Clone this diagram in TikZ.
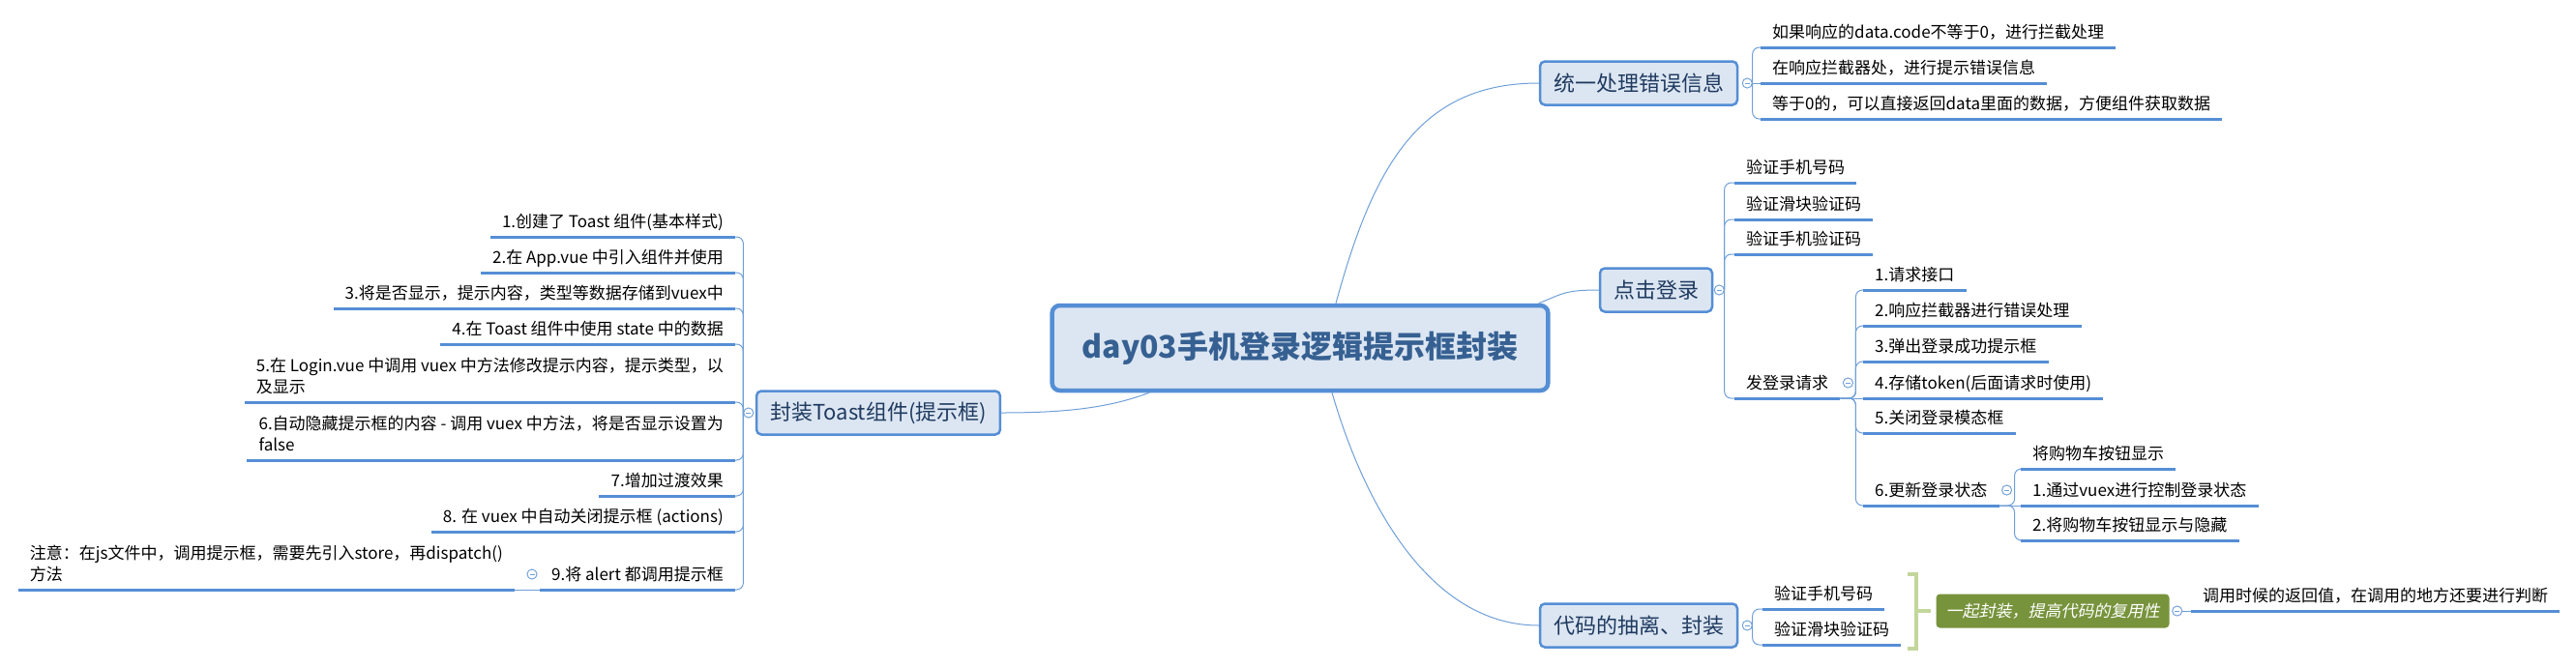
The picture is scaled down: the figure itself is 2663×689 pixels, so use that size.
\documentclass[tikz,border=0pt]{standalone}
\usepackage{fontspec}
\setmainfont{Noto Sans CJK SC}
\newfontfamily\slantfont[FakeSlant=0.2]{Noto Sans CJK SC}
\definecolor{boxblue}{HTML}{558ED5}
\definecolor{boxfill}{HTML}{DCE6F2}
\definecolor{connblue}{HTML}{6F9FD8}
\definecolor{rootblue}{HTML}{366092}
\definecolor{topicblue}{HTML}{1F3A60}
\definecolor{sumgreen}{HTML}{77933C}
\definecolor{brkgreen}{HTML}{C3D69B}
\tikzset{
  root/.style={draw=boxblue, line width=4.5pt, fill=boxfill, rounded corners=8pt,
    minimum height=88pt, inner xsep=31pt, text=rootblue,
    font=\fontsize{32}{38}\selectfont\bfseries},
  topic/.style={draw=boxblue, line width=2.5pt, fill=boxfill, rounded corners=5pt,
    minimum height=45pt, inner xsep=14pt, text=topicblue,
    font=\fontsize{22}{26}\selectfont},
  leaf/.style={inner xsep=12pt, inner ysep=6pt, text depth=3pt,
    font=\fontsize{17}{22}\selectfont},
  uline/.style={draw=boxblue, line width=3pt},
  conn/.style={draw=connblue, line width=1pt, rounded corners=7pt},
  fold/.style={circle, draw=connblue, fill=white, line width=0.8pt,
    minimum size=10pt, inner sep=0pt,
    path picture={\draw[connblue, line width=0.8pt]
      ([xshift=-2.5pt]path picture bounding box.center) --
      ([xshift=2.5pt]path picture bounding box.center);}},
  sumbox/.style={fill=sumgreen, text=white, rounded corners=4pt,
    minimum height=35pt, inner xsep=10pt, font=\fontsize{17}{22}\selectfont},
  brk/.style={draw=brkgreen, line width=4pt}
}
\begin{document}
\begin{tikzpicture}[x=1pt, y=-1pt]
  \fill[white] (0,0) rectangle (2663,689);
  \useasboundingbox (0,0) rectangle (2663,689);

  % root and main topics
  \node[root] (ctr) at (1344,360) {day03手机登录逻辑提示框封装};
  \node[topic] (t1) at (1694,86) {统一处理错误信息};
  \node[topic] (t2) at (1712,300) {点击登录};
  \node[topic] (t3) at (1694,647) {代码的抽离、封装};
  \node[topic] (t4) at (908,427) {封装Toast组件(提示框)};

  \draw[conn] ([xshift=37pt]ctr.north) .. controls +(39,-143) and +(-123,0) .. (t1.west);
  \draw[conn] ([xshift=-12pt]ctr.north east) .. controls +(25,-10) and +(-35,0) .. (t2.west);
  \draw[conn] ([xshift=33pt]ctr.south) .. controls +(33,114) and +(-113,0) .. (t3.west);
  \draw[conn] (t4.east) .. controls +(70,0) and +(-40,15) .. ([xshift=-156pt]ctr.south);

  % 统一处理错误信息
  \node[leaf, anchor=south west] (c11) at (1820,49) {如果响应的data.code不等于0，进行拦截处理};
  \node[leaf, anchor=south west] (c12) at (1820,86) {在响应拦截器处，进行提示错误信息};
  \node[leaf, anchor=south west] (c13) at (1820,123) {等于0的，可以直接返回data里面的数据，方便组件获取数据};

  % 点击登录
  \node[leaf, anchor=south west] (c21) at (1793,189) {验证手机号码};
  \node[leaf, anchor=south west] (c22) at (1793,227) {验证滑块验证码};
  \node[leaf, anchor=south west] (c23) at (1793,263) {验证手机验证码};
  \node[leaf, anchor=south west] (c24) at (1793,412) {发登录请求};
  \node[leaf, anchor=south west] (d1) at (1926,300) {1.请求接口};
  \node[leaf, anchor=south west] (d2) at (1926,337) {2.响应拦截器进行错误处理};
  \node[leaf, anchor=south west] (d3) at (1926,374) {3.弹出登录成功提示框};
  \node[leaf, anchor=south west] (d4) at (1926,412) {4.存储token(后面请求时使用)};
  \node[leaf, anchor=south west] (d5) at (1926,448) {5.关闭登录模态框};
  \node[leaf, anchor=south west] (d6) at (1926,523) {6.更新登录状态};
  \node[leaf, anchor=south west] (e1) at (2089,485) {将购物车按钮显示};
  \node[leaf, anchor=south west] (e2) at (2089,523) {1.通过vuex进行控制登录状态};
  \node[leaf, anchor=south west] (e3) at (2089,559) {2.将购物车按钮显示与隐藏};

  % 代码的抽离、封装
  \node[leaf, anchor=south west] (c31) at (1822,630) {验证手机号码};
  \node[leaf, anchor=south west] (c32) at (1822,667) {验证滑块验证码};
  \node[sumbox] (sm) at (2122,632) {\slantfont 一起封装，提高代码的复用性};
  \node[leaf, anchor=south west] (c51) at (2265,632) {调用时候的返回值，在调用的地方还要进行判断};
  \draw[brk] (1972,594) -- (1981,594) -- (1981,671) -- (1972,671);
  \draw[brk] (1981,632) -- ([xshift=-5pt]sm.west);

  % 封装Toast组件(提示框)
  \node[leaf, anchor=south east] (c41) at (760,245) {1.创建了 Toast 组件(基本样式)};
  \node[leaf, anchor=south east] (c42) at (760,282) {2.在 App.vue 中引入组件并使用};
  \node[leaf, anchor=south east] (c43) at (760,319) {3.将是否显示，提示内容，类型等数据存储到vuex中};
  \node[leaf, anchor=south east] (c44) at (760,356) {4.在 Toast 组件中使用 state 中的数据};
  \node[leaf, anchor=south east, align=left] (c45) at (760,416)
    {5.在 Login.vue 中调用 vuex 中方法修改提示内容，提示类型，以\\及显示};
  \node[leaf, anchor=south east, align=left] (c46) at (760,476)
    {6.自动隐藏提示框的内容 - 调用 vuex 中方法，将是否显示设置为\\false};
  \node[leaf, anchor=south east] (c47) at (760,513) {7.增加过渡效果};
  \node[leaf, anchor=south east] (c48) at (760,550) {8. 在 vuex 中自动关闭提示框 (actions)};
  \node[leaf, anchor=south east] (c49) at (760,610) {9.将 alert 都调用提示框};
  \node[leaf, anchor=south east, align=left] (c491) at (532,610)
    {注意：在js文件中，调用提示框，需要先引入store，再dispatch()\\方法};

  % fold buttons
  \node[fold] (f1) at ([xshift=9pt]t1.east) {};
  \node[fold] (f2) at ([xshift=6pt]t2.east) {};
  \node[fold] (f3) at ([xshift=9pt]t3.east) {};
  \node[fold] (f4) at ([xshift=-7pt]t4.west) {};
  \node[fold] (f24) at ([shift={(8,-16)}]c24.south east) {};
  \node[fold] (f6) at ([shift={(8,-16)}]d6.south east) {};
  \node[fold] (f49) at ([shift={(-8,-16)}]c49.south west) {};
  \node[fold] (f5) at ([xshift=8pt]sm.east) {};

  % branches
  \foreach \c in {c11,c13} \draw[conn] (f1.east) |- (\c.south west);
  \draw[conn] (f1.east) -- (c12.south west);
  \foreach \c in {c21,c22,c23,c24} \draw[conn] (f2.east) |- (\c.south west);
  \foreach \c in {d1,d2,d3,d5,d6} \draw[conn] (c24.south east) -- ++(16,0) |- (\c.south west);
  \draw[conn] (c24.south east) -- (d4.south west);
  \foreach \c in {e1,e3} \draw[conn] (d6.south east) -- ++(16,0) |- (\c.south west);
  \draw[conn] (d6.south east) -- (e2.south west);
  \foreach \c in {c31,c32} \draw[conn] (f3.east) |- (\c.south west);
  \draw[conn] (f5.east) -- (c51.south west);
  \foreach \c in {c41,c42,c43,c44,c45,c46,c47,c48,c49} \draw[conn] (f4.west) |- (\c.south east);
  \draw[conn] (c49.south west) -- (c491.south east);

  % underlines
  \foreach \n in {c11,c12,c13,c21,c22,c23,c24,d1,d2,d3,d4,d5,d6,e1,e2,e3,
                  c31,c32,c51,c41,c42,c43,c44,c45,c46,c47,c48,c49,c491}
    \draw[uline] (\n.south west) -- (\n.south east);
  % redraw fold buttons on top
  \foreach \f in {f1,f2,f3,f4,f24,f6,f49,f5}
    \node[fold] at (\f) {};
\end{tikzpicture}
\end{document}
